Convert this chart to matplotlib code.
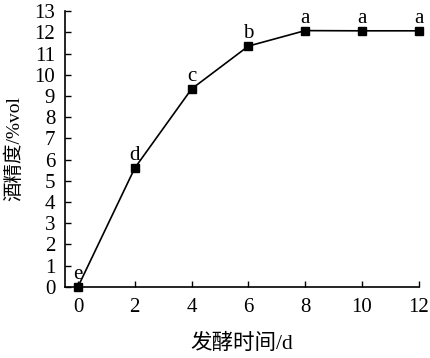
import matplotlib.pyplot as plt

plt.rcParams['font.family'] = ['Liberation Serif', 'Noto Sans CJK SC']
plt.rcParams['axes.unicode_minus'] = False

# data
days = [0, 2, 4, 6, 8, 10, 12]
alcohol = [0.0, 5.6, 9.33, 11.35, 12.08, 12.07, 12.07]
errors = [0.05, 0.1, 0.1, 0.08, 0.06, 0.05, 0.05]
letters = ['e', 'd', 'c', 'b', 'a', 'a', 'a']

fig = plt.figure(figsize=(4.3, 3.58), dpi=100)
ax = fig.add_axes([0.151, 0.199, 0.823, 0.770])

ax.errorbar(days, alcohol, yerr=errors, color='black', marker='s', markersize=5.5,
            linewidth=1.2, capsize=0, elinewidth=1, clip_on=False, zorder=3)

for x, y, s in zip(days, alcohol, letters):
    ax.annotate(s, (x, y), xytext=(0, 2), textcoords='offset points',
                ha='center', va='bottom', fontsize=15)

ax.set_xlim(-0.46, 12)
ax.set_ylim(0, 13)
ax.set_xticks(range(0, 13, 2))
ax.set_yticks(range(0, 14))
ax.tick_params(direction='in', labelsize=15, length=4.5, width=1)
ax.tick_params(axis='x', pad=8)
ax.tick_params(axis='y', pad=7)
ax.spines['top'].set_visible(False)
ax.spines['right'].set_visible(False)
ax.spines['left'].set_linewidth(1.2)
ax.spines['bottom'].set_linewidth(1.2)

ax.set_xlabel('发酵时间/d', fontsize=15.5, labelpad=12)
ax.set_ylabel('酒精度/%vol', fontsize=14, labelpad=8)

fig.savefig('out.png', dpi=100)
